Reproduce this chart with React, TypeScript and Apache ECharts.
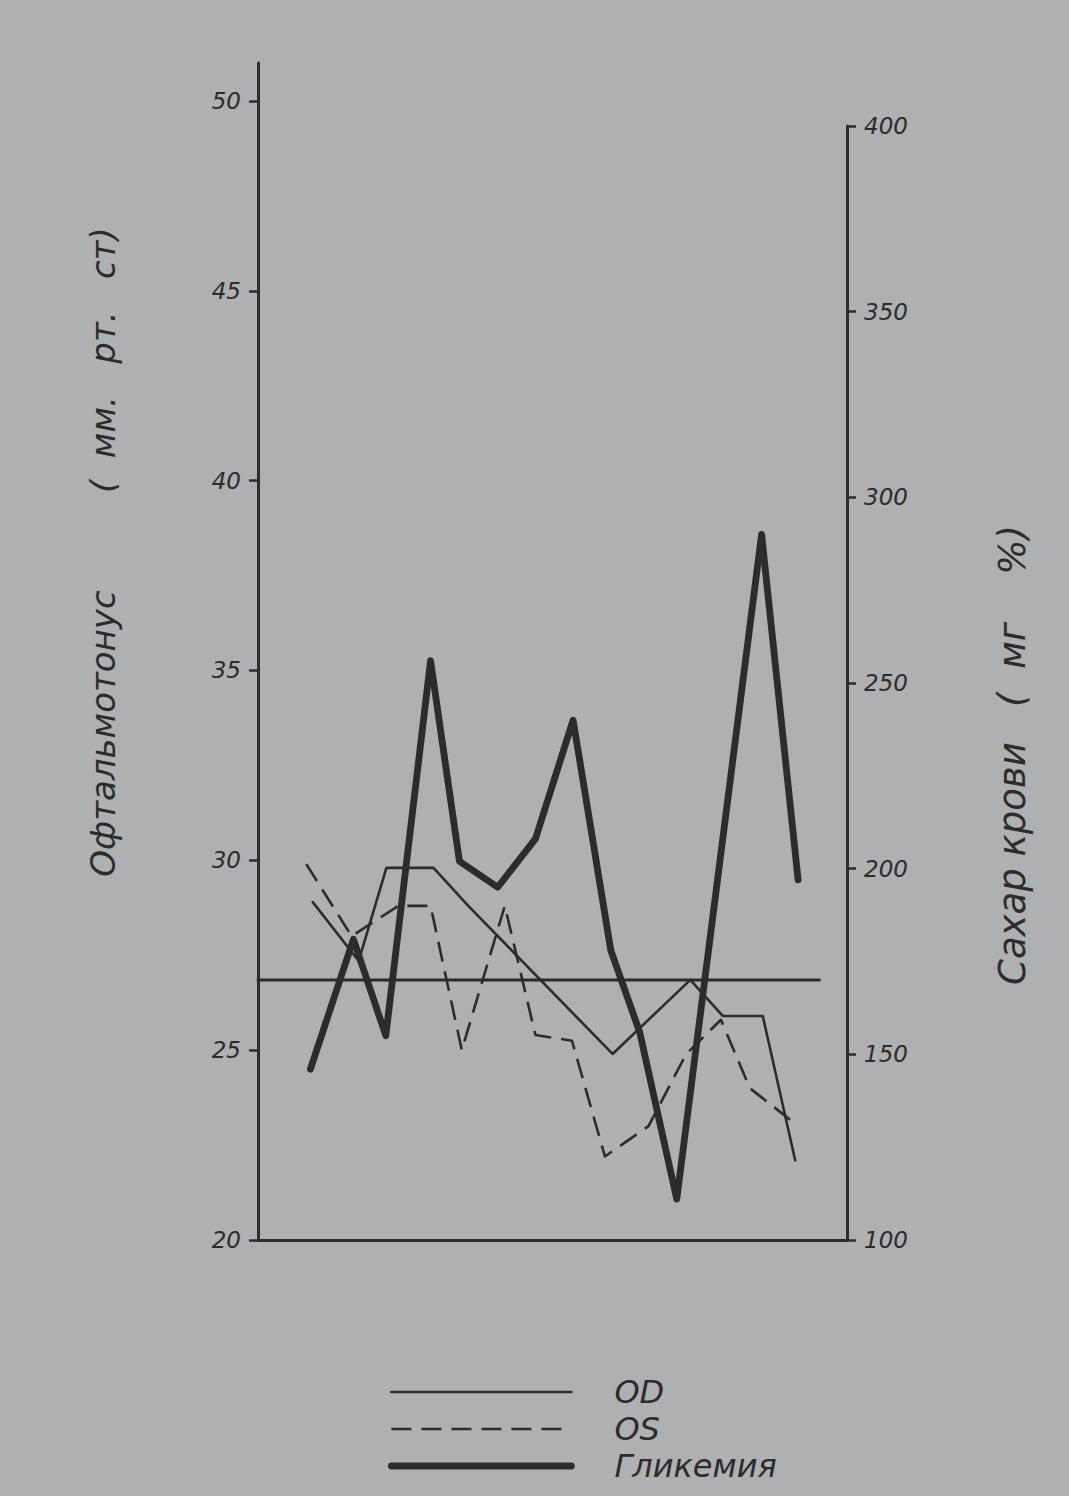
import React, { useEffect, useRef } from "react";
import * as echarts from "echarts";

// Observation points (arbitrary units along the time axis) and readings.
// Glycemia is plotted on the right axis (mg %), OD / OS on the left one (mm Hg).
const glycPos = [8.9, 16.2, 21.7, 29.3, 34.2, 40.7, 47.1, 53.5, 59.9, 64.8, 71.1, 85.5, 91.7];
const glycVals = [146, 181, 155, 256, 202, 195, 208, 240, 178, 156, 111, 290, 197];

const odPos = [9.3, 17.1, 21.8, 29.8, 35.7, 60.2, 73.4, 78.9, 85.7, 91.2];
const odVals = [28.9, 27.35, 29.8, 29.8, 28.8, 24.9, 26.85, 25.9, 25.9, 22.1];

const osPos = [8.2, 15.9, 23.8, 29.3, 34.6, 41.9, 47.1, 53.3, 58.9, 66.3, 72.7, 78.6, 83.5, 91.3];
const osVals = [29.9, 28.0, 28.8, 28.8, 25.0, 28.8, 25.4, 25.25, 22.2, 23.0, 24.9, 25.8, 24.0, 23.05];

// Reference level of the tonus (mm Hg) and the stretch it is drawn over
const normLevel = 26.85;
const normSpan = [0, 95.3];

const leftTicks = [20, 25, 30, 35, 40, 45, 50];
const rightTicks = [100, 150, 200, 250, 300, 350, 400];

const seriesNames = ["OD", "OS", "Гликемия"];
const leftTitle = "Офтальмотонус         (  мм.   рт.   ст)";
const rightTitle = "Сахар крови   (  мг    %)";

const INK = "#2c2c2c";
const PAPER = "#aeb0b1";
const FONT = "'DejaVu Sans', 'Liberation Sans', sans-serif";

const zip = (xs: number[], ys: number[]) => xs.map((x, i) => [x, ys[i]]);

export default function App() {
  const ref = useRef<HTMLDivElement>(null);

  useEffect(() => {
    document.body.style.margin = "0";
    document.body.style.background = PAPER;
    const chart = echarts.init(ref.current!, null, { renderer: "svg" });

    const tickLabel = {
      fontFamily: FONT,
      fontStyle: "italic" as const,
      fontSize: 23,
      color: INK,
    };

    const lineSeries = (
      name: string,
      xs: number[],
      ys: number[],
      axis: number,
      lineStyle: Record<string, unknown>
    ) => ({
      name,
      type: "line",
      xAxisIndex: axis,
      yAxisIndex: axis,
      symbol: "none",
      data: zip(xs, ys),
      lineStyle: { color: INK, join: "round", cap: "round", ...lineStyle },
      itemStyle: { color: INK },
    });

    chart.setOption({
      animation: false,
      backgroundColor: PAPER,
      grid: [
        { left: 258, width: 589, top: 63, height: 1177 },
        { left: 258, width: 589, top: 126, height: 1114 },
      ],
      xAxis: [
        {
          type: "value",
          gridIndex: 0,
          min: 0,
          max: 100,
          axisLine: { show: true, onZero: false, lineStyle: { color: INK, width: 3 } },
          axisTick: { show: false },
          axisLabel: { show: false },
          splitLine: { show: false },
        },
        { type: "value", gridIndex: 1, min: 0, max: 100, show: false },
      ],
      yAxis: [
        {
          type: "value",
          gridIndex: 0,
          position: "left",
          min: 20,
          max: 51,
          interval: 5,
          axisLine: { show: true, onZero: false, lineStyle: { color: INK, width: 3 } },
          axisTick: {
            show: true,
            length: 9,
            customValues: leftTicks,
            lineStyle: { color: INK, width: 2.5 },
          },
          axisLabel: {
            ...tickLabel,
            margin: 17,
            customValues: leftTicks,
            formatter: (v: number) => (leftTicks.includes(v) ? String(v) : ""),
          },
          splitLine: { show: false },
        },
        {
          type: "value",
          gridIndex: 1,
          position: "right",
          min: 100,
          max: 400,
          interval: 50,
          axisLine: { show: true, onZero: false, lineStyle: { color: INK, width: 3 } },
          axisTick: {
            show: true,
            length: 9,
            customValues: rightTicks,
            lineStyle: { color: INK, width: 2.5 },
          },
          axisLabel: {
            ...tickLabel,
            margin: 17,
            customValues: rightTicks,
            formatter: (v: number) => (rightTicks.includes(v) ? String(v) : ""),
          },
          splitLine: { show: false },
        },
      ],
      legend: {
        data: seriesNames,
        orient: "vertical",
        left: 388,
        top: 1376,
        padding: 0,
        itemWidth: 180,
        itemHeight: 20,
        itemGap: 5,
        itemStyle: { opacity: 0 },
        lineStyle: { width: "inherit", type: "inherit" },
        textStyle: {
          fontFamily: FONT,
          fontStyle: "italic",
          fontSize: 32,
          lineHeight: 32,
          color: INK,
          padding: [0, 0, 0, 38],
        },
      },
      graphic: [
        {
          type: "text",
          x: 103,
          y: 552,
          rotation: Math.PI / 2,
          style: {
            text: leftTitle,
            font: `italic 34px ${FONT}`,
            fill: INK,
            align: "center",
            verticalAlign: "middle",
          },
        },
        {
          type: "text",
          x: 1012,
          y: 755,
          rotation: Math.PI / 2,
          style: {
            text: rightTitle,
            font: `italic 37px ${FONT}`,
            fill: INK,
            align: "center",
            verticalAlign: "middle",
          },
        },
      ],
      series: [
        lineSeries("OD", odPos, odVals, 0, { width: 2.6, type: "solid" }),
        lineSeries("OS", osPos, osVals, 0, { width: 2.6, type: [20, 10], cap: "butt" }),
        lineSeries("Гликемия", glycPos, glycVals, 1, { width: 6.8, type: "solid" }),
        lineSeries("норма", normSpan, normSpan.map(() => normLevel), 0, { width: 3 }),
      ],
    });

    return () => chart.dispose();
  }, []);

  return (
    <div
      ref={ref}
      style={{ position: "absolute", left: 0, top: 0, width: 1069, height: 1496 }}
    />
  );
}
